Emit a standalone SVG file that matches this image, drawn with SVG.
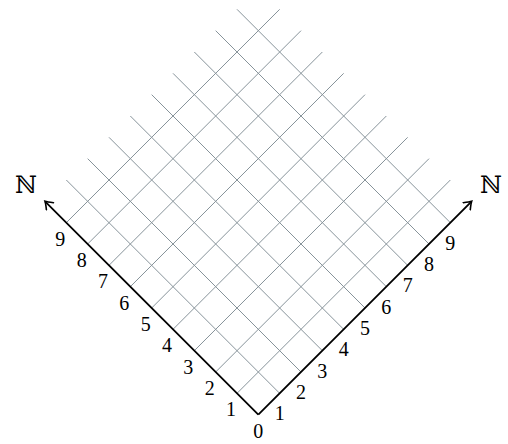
<svg xmlns="http://www.w3.org/2000/svg" width="508" height="444" viewBox="0 0 508 444">
<style>
.grid line{stroke:#87939a;stroke-width:1;fill:none}
.axis{stroke:#000;stroke-width:1.8;fill:none}
.num{font-family:"Liberation Serif","Times New Roman",serif;font-size:20px;font-variant-numeric:oldstyle-nums;text-anchor:middle;fill:#000}
.nat{font-family:"DejaVu Serif","Noto Sans",serif;font-size:24px;text-anchor:middle;fill:#000}
</style>
<defs>
<marker id="arr" viewBox="-8 -6 10 12" refX="0" refY="0" markerWidth="10" markerHeight="12" markerUnits="userSpaceOnUse" orient="auto">
<path d="M-7,-5 Q-2,-1 0,0 Q-2,1 -7,5" fill="none" stroke="#000" stroke-width="1.6" stroke-linecap="round"/>
</marker>
</defs>
<rect width="508" height="444" fill="#fff"/>
<g id="grid" class="grid">
<line x1="279.67" y1="393.33" x2="66.33" y2="180"/>
<line x1="301" y1="372" x2="87.67" y2="158.67"/>
<line x1="322.33" y1="350.67" x2="109" y2="137.33"/>
<line x1="343.67" y1="329.33" x2="130.33" y2="116"/>
<line x1="365" y1="308" x2="151.67" y2="94.67"/>
<line x1="386.33" y1="286.67" x2="173" y2="73.33"/>
<line x1="407.67" y1="265.33" x2="194.33" y2="52"/>
<line x1="429" y1="244" x2="215.67" y2="30.67"/>
<line x1="450.33" y1="222.67" x2="237" y2="9.33"/>
<line x1="237" y1="393.33" x2="450.33" y2="180"/>
<line x1="215.67" y1="372" x2="429" y2="158.67"/>
<line x1="194.33" y1="350.67" x2="407.67" y2="137.33"/>
<line x1="173" y1="329.33" x2="386.33" y2="116"/>
<line x1="151.67" y1="308" x2="365" y2="94.67"/>
<line x1="130.33" y1="286.67" x2="343.67" y2="73.33"/>
<line x1="109" y1="265.33" x2="322.33" y2="52"/>
<line x1="87.67" y1="244" x2="301" y2="30.67"/>
<line x1="66.33" y1="222.67" x2="279.67" y2="9.33"/>
</g>
<g id="connectors">
<line id="axis-left" class="axis" x1="258.33" y1="414.67" x2="45" y2="201.33" marker-end="url(#arr)"/>
<line id="axis-right" class="axis" x1="258.33" y1="414.67" x2="471.67" y2="201.33" marker-end="url(#arr)"/>
</g>
<g id="label-N-left"><text class="nat" x="26" y="193">ℕ</text></g>
<g id="label-N-right"><text class="nat" x="491" y="193">ℕ</text></g>
<g id="label-origin"><text class="num" x="258.33" y="437.5">0</text></g>
<g id="labels-left">
<text class="num" x="231" y="416.33">1</text>
<text class="num" x="209.67" y="395">2</text>
<text class="num" x="188.33" y="373.67">3</text>
<text class="num" x="167" y="352.33">4</text>
<text class="num" x="145.67" y="331">5</text>
<text class="num" x="124.33" y="309.67">6</text>
<text class="num" x="103" y="288.33">7</text>
<text class="num" x="81.67" y="267">8</text>
<text class="num" x="60.33" y="245.67">9</text>
</g>
<g id="labels-right">
<text class="num" x="279.67" y="420.33">1</text>
<text class="num" x="301" y="399">2</text>
<text class="num" x="322.33" y="377.67">3</text>
<text class="num" x="343.67" y="356.33">4</text>
<text class="num" x="365" y="335">5</text>
<text class="num" x="386.33" y="313.67">6</text>
<text class="num" x="407.67" y="292.33">7</text>
<text class="num" x="429" y="271">8</text>
<text class="num" x="450.33" y="249.67">9</text>
</g>
</svg>
